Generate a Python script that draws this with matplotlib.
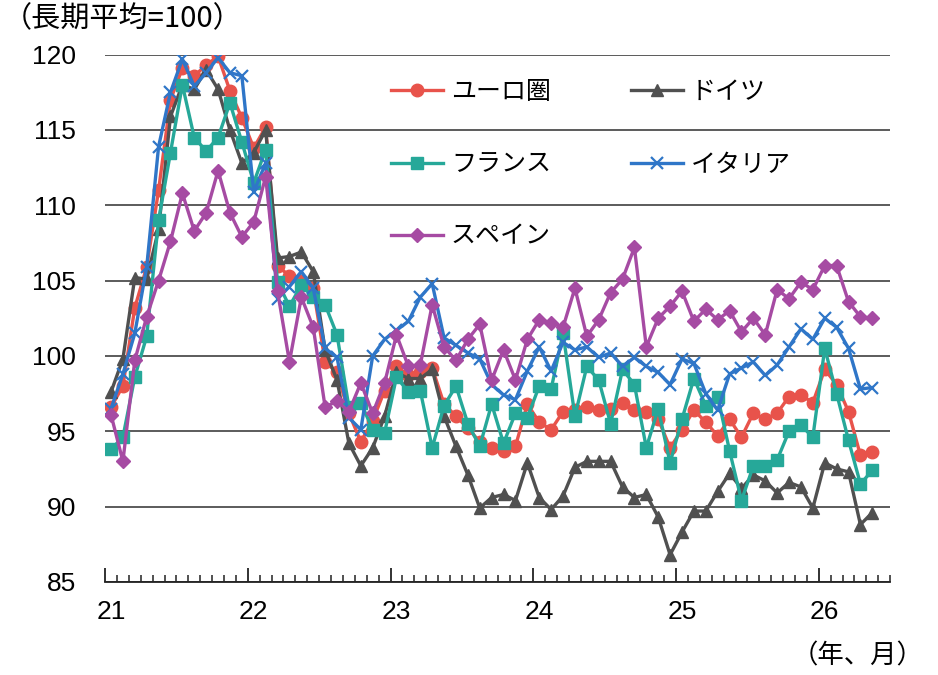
import numpy as np
import matplotlib
matplotlib.use("Agg")
import matplotlib.pyplot as plt
from matplotlib.transforms import blended_transform_factory

plt.rcParams['font.family'] = ['Liberation Sans', 'Noto Sans CJK JP', 'DejaVu Sans']

# monthly data, Jan 2021 - May 2026
year_labels = ['21', '22', '23', '24', '25', '26']

euro = [96.6, 98.0, 103.2, 105.9, 111.0, 117.0, 119.1, 118.6, 119.3, 119.9, 117.6, 115.8,
        113.8, 115.2, 106.0, 105.3, 105.0, 104.5, 99.6, 98.9, 96.2, 94.3, 95.7, 97.7,
        99.3, 98.7, 98.9, 99.2, 96.8, 96.0, 95.2, 94.3, 93.9, 93.7, 94.0, 96.8,
        95.6, 95.1, 96.3, 96.4, 96.6, 96.4, 96.5, 96.9, 96.4, 96.3, 95.8, 93.9,
        95.1, 96.4, 95.6, 94.7, 95.8, 94.6, 96.2, 95.8, 96.2, 97.3, 97.4, 96.9,
        99.1, 98.1, 96.3, 93.4, 93.6]
germany = [97.6, 99.8, 105.2, 105.1, 108.4, 115.9, 118.0, 117.7, 119.0, 117.7, 115.0, 112.8,
           113.5, 115.0, 106.5, 106.6, 106.9, 105.6, 100.4, 98.4, 94.2, 92.7, 93.9, 96.0,
           98.9, 98.5, 98.5, 99.1, 96.0, 94.0, 92.1, 89.9, 90.6, 90.8, 90.4, 92.9,
           90.6, 89.8, 90.7, 92.6, 93.0, 93.0, 93.0, 91.3, 90.6, 90.8, 89.3, 86.8,
           88.3, 89.7, 89.7, 91.0, 92.2, 91.2, 92.1, 91.7, 90.9, 91.6, 91.3, 89.9,
           92.9, 92.5, 92.3, 88.8, 89.6]
france = [93.8, 94.6, 98.6, 101.3, 109.0, 113.5, 118.0, 114.5, 113.6, 114.5, 116.8, 114.2,
          111.5, 113.7, 104.9, 103.3, 104.7, 103.9, 103.4, 101.4, 96.6, 96.9, 95.1, 94.9,
          98.6, 97.6, 97.7, 93.9, 96.7, 98.0, 95.5, 94.0, 96.8, 94.2, 96.2, 95.9,
          98.0, 97.8, 101.5, 96.0, 99.3, 98.4, 95.5, 99.1, 98.1, 93.9, 96.5, 92.9,
          95.8, 98.5, 96.7, 97.3, 93.7, 90.4, 92.7, 92.7, 93.1, 95.0, 95.4, 94.6,
          100.5, 97.5, 94.4, 91.5, 92.4]
italy = [96.5, 98.8, 101.5, 105.9, 113.9, 117.5, 119.7, 117.9, 118.8, 119.8, 118.8, 118.6,
         110.9, 112.8, 103.8, 104.6, 105.6, 104.5, 100.5, 99.9, 95.9, 95.1, 100.0, 101.1,
         101.7, 102.3, 103.9, 104.8, 101.2, 100.7, 100.2, 99.8, 98.1, 97.4, 97.1, 99.0,
         100.6, 99.0, 100.9, 100.4, 100.6, 99.9, 100.2, 99.3, 99.9, 99.3, 98.9, 98.1,
         99.8, 99.5, 97.5, 96.4, 98.8, 99.2, 99.6, 98.7, 99.4, 100.6, 101.8, 101.1,
         102.5, 101.9, 100.5, 97.8, 97.9]
spain = [96.1, 93.0, 99.7, 102.6, 105.0, 107.6, 110.8, 108.3, 109.5, 112.3, 109.5, 107.9,
         108.9, 111.9, 104.3, 99.6, 103.9, 101.9, 96.6, 97.0, 96.3, 98.2, 96.2, 98.2,
         101.4, 99.3, 99.4, 103.4, 100.6, 99.7, 101.1, 102.1, 98.4, 100.4, 98.4, 101.1,
         102.4, 102.2, 101.9, 104.5, 101.3, 102.4, 104.2, 105.1, 107.2, 100.6, 102.5, 103.3,
         104.3, 102.3, 103.1, 102.4, 103.0, 101.6, 102.5, 101.4, 104.4, 103.8, 104.9, 104.4,
         106.0, 106.0, 103.6, 102.6, 102.5]

x = np.arange(len(euro))
n_slots = 66  # axis runs Jan 2021 - Jun 2026

fig = plt.figure(figsize=(9.38, 6.75), dpi=100)
ax = fig.add_axes([0.112, 0.138, 0.837, 0.781])

lw = 2.4
ms = 9
l_euro, = ax.plot(x, euro, color='#E8534B', lw=lw, marker='o', ms=ms, label='ユーロ圏')
l_ger, = ax.plot(x, germany, color='#505050', lw=lw, marker='^', ms=ms, label='ドイツ')
l_fra, = ax.plot(x, france, color='#26A899', lw=lw, marker='s', ms=ms - 0.5, label='フランス')
l_ita, = ax.plot(x, italy, color='#2F76C8', lw=lw, marker='x', ms=ms, mew=1.6, label='イタリア')
l_spa, = ax.plot(x, spain, color='#A64BA3', lw=lw, marker='D', ms=ms - 1.5, label='スペイン')

ax.set_ylim(85, 120)
ax.set_xlim(-0.5, n_slots - 0.5)
ax.set_yticks(np.arange(85, 121, 5))
ax.tick_params(axis='y', length=0, labelsize=19, pad=21)
ax.yaxis.grid(True, color='#404040', lw=1.2)
ax.set_axisbelow(True)

ax.set_xticks(np.arange(-0.5, n_slots, 12))
ax.set_xticks(np.arange(-0.5, n_slots, 1), minor=True)
ax.set_xticklabels([])
ax.tick_params(axis='x', which='major', direction='in', length=10, width=1.3, color='#222222')
ax.tick_params(axis='x', which='minor', direction='in', length=5, width=1.1, color='#222222')

trans = blended_transform_factory(ax.transData, ax.transAxes)
for k, lab in enumerate(year_labels):
    ax.text(k * 12, -0.058, lab, transform=trans, ha='center', va='center', fontsize=19)

for side in ['top', 'right', 'left']:
    ax.spines[side].set_visible(False)
ax.spines['bottom'].set_color('#222222')
ax.spines['bottom'].set_linewidth(1.3)

ax.legend(handles=[l_euro, l_fra, l_spa, l_ger, l_ita], ncol=2, frameon=False,
          loc='upper left', bbox_to_anchor=(0.345, 0.982),
          handlelength=2.1, labelspacing=1.85, columnspacing=3.2, handletextpad=0.3,
          borderaxespad=0.2, prop={'family': ['Noto Sans CJK JP'], 'size': 18})

fig.text(0.003, 0.972, '（長期平均=100）', fontsize=21, family=['Noto Sans CJK JP'], va='center', ha='left')
fig.text(0.985, 0.028, '（年、月）', fontsize=19, family=['Noto Sans CJK JP'], va='center', ha='right')

fig.savefig('out.png', dpi=100)
